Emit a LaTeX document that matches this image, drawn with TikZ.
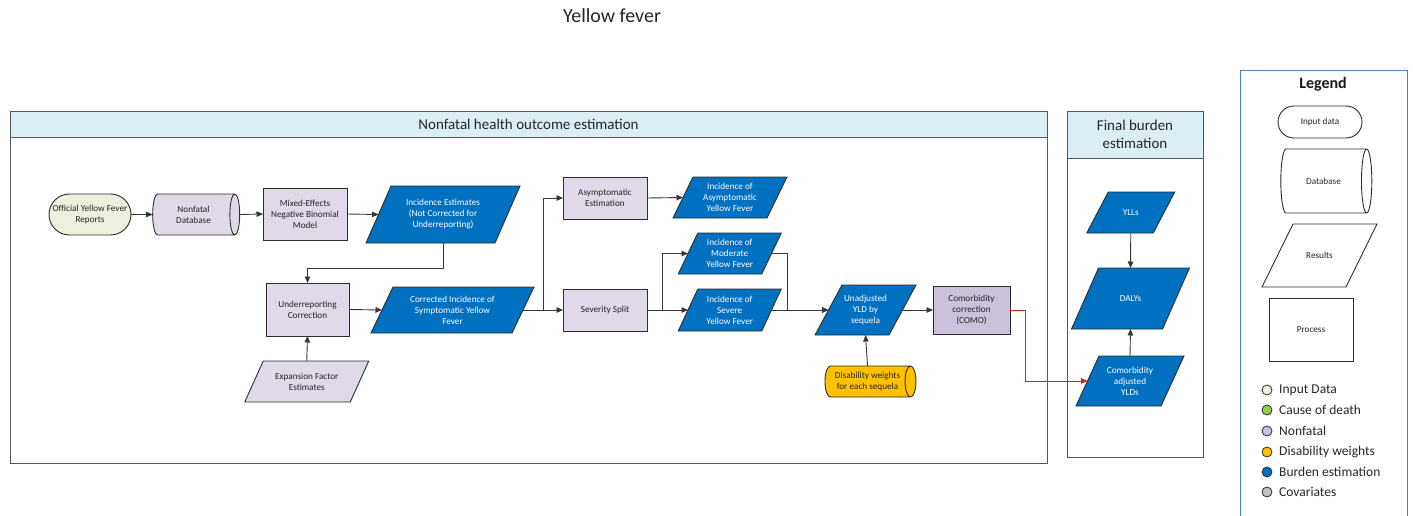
\documentclass[tikz,border=0pt]{standalone}
\usepackage{fontspec}
\setmainfont{Carlito}
\usetikzlibrary{shapes.geometric,arrows.meta}

\definecolor{procfill}{RGB}{223,217,232}
\definecolor{comofill}{RGB}{204,193,218}
\definecolor{inputfill}{RGB}{235,241,222}
\definecolor{causefill}{RGB}{146,208,80}
\definecolor{dwfill}{RGB}{255,192,0}
\definecolor{burdenfill}{RGB}{0,112,192}
\definecolor{covfill}{RGB}{191,191,191}
\definecolor{headfill}{RGB}{218,238,243}
\definecolor{edgecol}{RGB}{45,45,45}
\definecolor{linecol}{RGB}{55,55,55}
\definecolor{legendedge}{RGB}{79,129,189}
\definecolor{redline}{RGB}{205,35,35}

\tikzset{
  nodefont/.style={font=\fontsize{9.2}{11}\selectfont},
  base/.style={nodefont, draw=edgecol, line width=0.9pt, align=center,
    inner sep=0pt, outer sep=0pt, text=black!85},
  procbox/.style={base, rectangle, fill=procfill},
  terminal/.style={base, rectangle, fill=inputfill},
  % cylinder sizes: minimum width is the diameter, minimum height the length
  cyl/.style={base, cylinder, shape aspect=0.56, fill=procfill},
  burden/.style={base, fill=burdenfill, text=white},
  nfresult/.style={base, fill=procfill},
  blank/.style={base, fill=white},
  arr/.style={draw=linecol, line width=0.9pt, -{Triangle[length=6.5pt,width=5.5pt]}},
  redarr/.style={draw=redline, line width=0.9pt, -{Triangle[length=6.5pt,width=5.5pt]}},
  frame/.style={draw=edgecol!80, line width=0.9pt},
  headtext/.style={font=\fontsize{15}{18}\selectfont, align=center, text=black!85},
  legdot/.style={circle, draw=edgecol, line width=0.8pt, minimum size=10pt, inner sep=0pt},
  legtext/.style={anchor=west, inner sep=0pt, font=\fontsize{13.5}{16}\selectfont, text=black!85},
}

% slanted result box: style, name, centre x, centre y, edge length, height, slant, text
\newcommand{\slantnode}[8]{%
  \filldraw[#1] ({#3-#5/2+#7/2},{#4-#6/2}) -- ({#3+#5/2+#7/2},{#4-#6/2})
     -- ({#3+#5/2-#7/2},{#4+#6/2}) -- ({#3-#5/2-#7/2},{#4+#6/2}) -- cycle;
  \node[#1, draw=none, fill=none, minimum width=#5, minimum height=#6] (#2) at (#3,#4) {#8};
}

\begin{document}
\begin{tikzpicture}[x=1pt,y=-1pt]
\useasboundingbox (0,0) rectangle (1413,516);

\node[font=\fontsize{20}{24}\selectfont, text=black!85] (title) at (612,16) {Yellow fever};

% containers
\filldraw[frame, fill=headfill] (10,111) rectangle (1047,137);
\draw[frame] (10,111) rectangle (1047,463);
\node[headtext] (nfhead) at (528.5,124) {Nonfatal health outcome estimation};

\filldraw[frame, fill=headfill] (1067,111) rectangle (1203,158);
\draw[frame] (1067,111) rectangle (1203,457);
\node[headtext] (fbhead) at (1135,134.5) {Final burden\\estimation};

\draw[draw=legendedge, line width=0.9pt] (1240,516) -- (1240,70) -- (1407,70) -- (1407,516);

% nonfatal pipeline
\node[terminal, minimum width=82, minimum height=41, rounded corners=20.5pt] (official) at (90,214.5) {Official Yellow Fever\\Reports};
\node[cyl, minimum width=41, minimum height=87] (nfdb) at (193.5,214.5) {Nonfatal\\Database};
\node[procbox, minimum width=84, minimum height=52] (mixed) at (305,214) {Mixed-Effects\\Negative Binomial\\Model};
\slantnode{burden}{incest}{443}{214.5}{129}{57}{25}{Incidence Estimates\\(Not Corrected for\\Underreporting)}
\node[procbox, minimum width=83, minimum height=53] (under) at (307.5,309.5) {Underreporting\\Correction};
\slantnode{nfresult}{expfac}{306.75}{381.5}{105.5}{41}{18.5}{Expansion Factor\\Estimates}
\slantnode{burden}{corrinc}{452.5}{310}{141}{46}{22}{Corrected Incidence of\\Symptomatic Yellow\\Fever}
\node[procbox, minimum width=84, minimum height=42] (asymest) at (605,198) {Asymptomatic\\Estimation};
\node[procbox, minimum width=84, minimum height=42] (sevsplit) at (605,310) {Severity Split};
\slantnode{burden}{incasym}{730}{197.5}{94}{41}{20}{Incidence of\\Asymptomatic\\Yellow Fever}
\slantnode{burden}{incmod}{729.75}{253.5}{83.5}{41}{19.5}{Incidence of\\Moderate\\Yellow Fever}
\slantnode{burden}{incsev}{729.75}{310}{83.5}{42}{19.5}{Incidence of\\Severe\\Yellow Fever}
\slantnode{burden}{unadj}{865.5}{310}{74}{50}{27}{Unadjusted\\YLD by\\sequela}
\node[cyl, fill=dwfill, shape aspect=0.58, minimum width=31, minimum height=91] (dw) at (867.5,381.5) {Disability weights\\for each sequela};
\node[procbox, fill=comofill, minimum width=77, minimum height=48] (como) at (971.5,310) {Comorbidity\\correction\\(COMO)};

% final burden
\slantnode{burden}{ylls}{1130.75}{212.5}{66.5}{41}{21.5}{YLLs}
\slantnode{burden}{dalys}{1130.5}{298.5}{91}{61}{27}{DALYs}
\slantnode{burden}{yldadj}{1130}{381}{85}{50}{23}{Comorbidity\\adjusted\\YLDs}

% connectors
\draw[arr] (official.east) -- (nfdb.west);
\draw[arr] (nfdb.east) -- (mixed.west);
\draw[arr] (mixed.east) -- (incest.west);
\draw[arr] (incest.south) -- ++(0,25) -| (under.north);
\draw[arr] (expfac.north) -- (under.south);
\draw[arr] (under.east) -- (corrinc.west);
\draw[arr] (corrinc.east) -- (sevsplit.west);
\draw[arr] (corrinc.east) -- ++(20,0) |- (asymest.west);
\draw[arr] (asymest.east) -- (incasym.west);
\draw[arr] (sevsplit.east) -- (incsev.west);
\draw[arr] (sevsplit.east) -- ++(15,0) |- (incmod.west);
\draw[arr] (incmod.east) -- ++(16,0) |- (unadj.west);
\draw[arr] (incsev.east) -- (unadj.west);
\draw[arr] (dw.north) -- (unadj.south);
\draw[arr] (unadj.east) -- (como.west);
\draw[redarr] (como.east) -- ++(15,0) |- (yldadj.west);
\draw[arr] (ylls.south) -- (dalys.north);
\draw[arr] (yldadj.north) -- (dalys.south);

% legend
\node[font=\fontsize{16}{19}\selectfont\bfseries, text=black!90] (legtitle) at (1323,84) {Legend};
\node[base, fill=white, minimum width=84, minimum height=32, rounded corners=16pt] (lginput) at (1320,122) {Input data};
\node[cyl, fill=white, shape aspect=1.6, minimum width=64, minimum height=91] (lgdb) at (1323.5,181) {Database};
\slantnode{blank}{lgres}{1319.5}{255.5}{84}{63}{31}{Results}
\node[base, fill=white, minimum width=84, minimum height=63] (lgproc) at (1311,329.5) {Process};

\node[legdot, fill=inputfill] (d1) at (1267,390) {};
\node[legtext] (t1) at (1279,390) {Input Data};
\node[legdot, fill=causefill] (d2) at (1267,410) {};
\node[legtext] (t2) at (1279,410) {Cause of death};
\node[legdot, fill=comofill] (d3) at (1267,431) {};
\node[legtext] (t3) at (1279,431) {Nonfatal};
\node[legdot, fill=dwfill] (d4) at (1267,452) {};
\node[legtext] (t4) at (1279,452) {Disability weights};
\node[legdot, fill=burdenfill] (d5) at (1267,472) {};
\node[legtext] (t5) at (1279,472) {Burden estimation};
\node[legdot, fill=covfill] (d6) at (1267,492) {};
\node[legtext] (t6) at (1279,492) {Covariates};
\end{tikzpicture}
\end{document}
